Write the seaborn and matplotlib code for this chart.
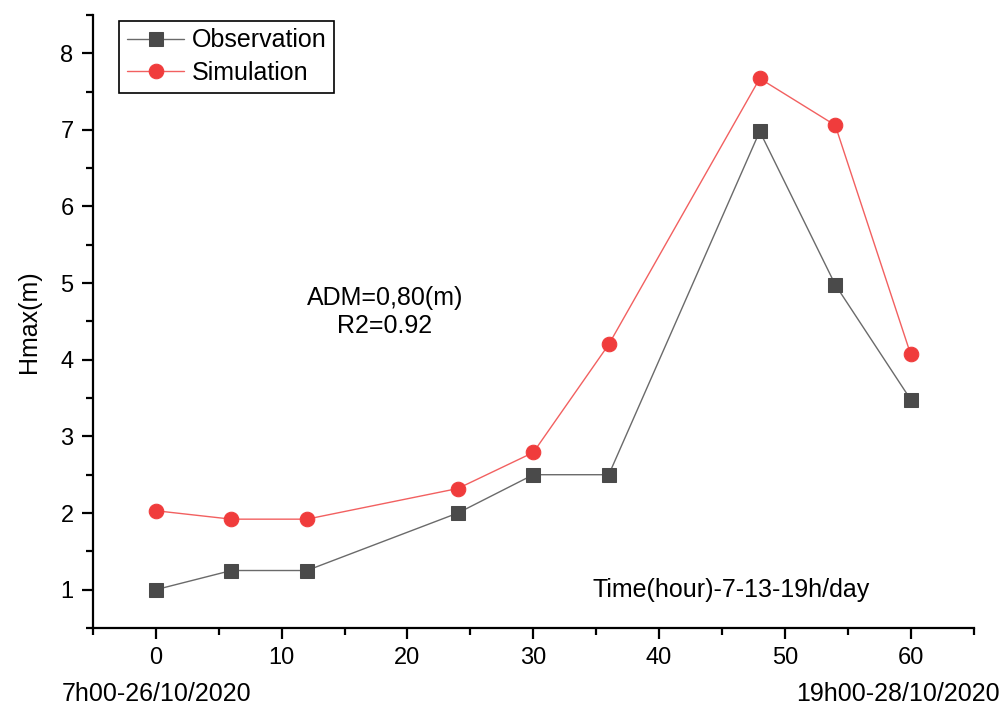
import numpy as np
import pandas as pd
import matplotlib
matplotlib.use("Agg")
import matplotlib.pyplot as plt
import seaborn as sns
from matplotlib.ticker import MultipleLocator

# data
hours = [0, 6, 12, 24, 30, 36, 48, 54, 60]
observation = [1.0, 1.25, 1.25, 2.0, 2.5, 2.5, 6.98, 4.98, 3.48]
simulation = [2.03, 1.92, 1.92, 2.32, 2.79, 4.2, 7.67, 7.06, 4.07]

sns.set_style("ticks")
plt.rcParams['font.family'] = ['Liberation Sans', 'DejaVu Sans']
plt.rcParams['text.color'] = 'black'
plt.rcParams['axes.labelcolor'] = 'black'

df = pd.DataFrame({"hour": hours, "Observation": observation, "Simulation": simulation})

fig = plt.figure(figsize=(10.03, 7.08), dpi=100)
ax = fig.add_axes([0.0927, 0.113, 0.878, 0.866])

sns.lineplot(data=df, x="hour", y="Observation", ax=ax, color="#6a6a6a", lw=1.0,
             marker="s", markersize=10, markerfacecolor="#4a4a4a",
             markeredgecolor="#4a4a4a", label="Observation")
sns.lineplot(data=df, x="hour", y="Simulation", ax=ax, color="#f26060", lw=1.0,
             marker="o", markersize=10.5, markerfacecolor="#f03c3c",
             markeredgecolor="#f03c3c", label="Simulation")

ax.set_xlim(-5, 65)
ax.set_ylim(0.5, 8.5)
ax.xaxis.set_major_locator(MultipleLocator(10))
ax.xaxis.set_minor_locator(MultipleLocator(5))
ax.yaxis.set_major_locator(MultipleLocator(1))
ax.yaxis.set_minor_locator(MultipleLocator(0.5))

for s in ["top", "right"]:
    ax.spines[s].set_visible(False)
for s in ["left", "bottom"]:
    ax.spines[s].set_linewidth(1.6)
    ax.spines[s].set_color("black")

ax.tick_params(which="major", length=8, width=1.6, labelsize=17, colors="black", pad=6)
ax.tick_params(which="minor", length=5, width=1.6, colors="black")

ax.set_xlabel("")
ax.set_ylabel("Hmax(m)", fontsize=18, labelpad=14)

ax.text(18.2, 4.62, "ADM=0,80(m)\nR2=0.92", ha="center", va="center", fontsize=18,
        linespacing=1.2)
ax.text(45.7, 0.99, "Time(hour)-7-13-19h/day", ha="center", va="center", fontsize=18)

fig.text(0.0618, 0.02, "7h00-26/10/2020", ha="left", va="center", fontsize=18)
fig.text(0.997, 0.02, "19h00-28/10/2020", ha="right", va="center", fontsize=18)

leg = ax.legend(loc="upper left", bbox_to_anchor=(0.03, 0.99), borderaxespad=0,
                fontsize=18, handlelength=2.3, handletextpad=0.3, labelspacing=0.35,
                borderpad=0.3, fancybox=False, framealpha=1)
leg.get_frame().set_edgecolor("black")
leg.get_frame().set_linewidth(1.2)

fig.savefig("out.png", dpi=100)
